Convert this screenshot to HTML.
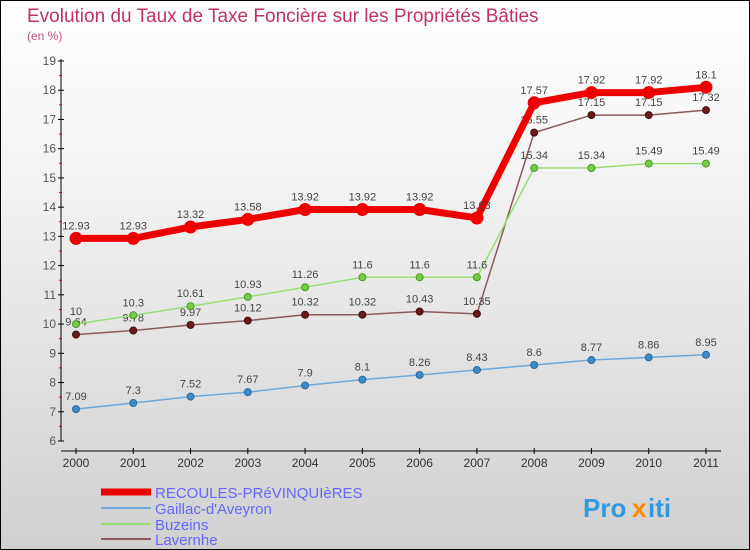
<!DOCTYPE html>
<html><head><meta charset="utf-8"><style>
body{margin:0}
#c{width:748px;height:548px;border:1px solid #000;background:linear-gradient(#fff,#f4f4f4 30%,#d0d0d0);position:relative;font-family:"Liberation Sans",sans-serif}
</style></head><body>
<div id="c">
<svg id="s" width="748" height="548" style="position:absolute;left:0;top:0">
<text x="26" y="21" font-size="19" fill="#c0306a">Evolution du Taux de Taxe Foncière sur les Propriétés Bâties</text>
<text x="26" y="39" font-size="12" fill="#c05080">(en %)</text>
<g id="ax"></g><g id="series"></g>
<g>
<line x1="100" y1="491" x2="150" y2="491" stroke="#ee0000" stroke-width="7"/>
<line x1="100" y1="507" x2="150" y2="507" stroke="#6fa8d8" stroke-width="2"/>
<line x1="100" y1="523" x2="150" y2="523" stroke="#99dd77" stroke-width="2"/>
<line x1="100" y1="538" x2="150" y2="538" stroke="#8b5a5a" stroke-width="2"/>
<g font-size="15" fill="#6666ff">
<text x="154" y="497">RECOULES-PRéVINQUIèRES</text>
<text x="154" y="513">Gaillac-d'Aveyron</text>
<text x="154" y="529">Buzeins</text>
<text x="154" y="544">Lavernhe</text>
</g></g>
<g font-size="26" font-weight="bold">
<text x="582" y="516" fill="#3399dd">Pro</text><text x="631" y="516" fill="#ff8800">x</text><text x="647" y="516" fill="#3399dd">iti</text>
</g>
</svg></div>
<script>
const years=[2000,2001,2002,2003,2004,2005,2006,2007,2008,2009,2010,2011];
const recoules=[12.93,12.93,13.32,13.58,13.92,13.92,13.92,13.63,17.57,17.92,17.92,18.1];
const gaillac=[7.09,7.3,7.52,7.67,7.9,8.1,8.26,8.43,8.6,8.77,8.86,8.95];
const buzeins=[10,10.3,10.61,10.93,11.26,11.6,11.6,11.6,15.34,15.34,15.49,15.49];
const lavernhe=[9.64,9.78,9.97,10.12,10.32,10.32,10.43,10.35,16.55,17.15,17.15,17.32];
const yTicks=[6,7,8,9,10,11,12,13,14,15,16,17,18,19];
const NS="http://www.w3.org/2000/svg";
const X=i=>75+i*(630/(years.length-1));
const Y=v=>440-(v-6)*(380/13);
function mk(t,a,p){const e=document.createElementNS(NS,t);for(const k in a)e.setAttribute(k,a[k]);p.appendChild(e);return e;}
const ax=document.getElementById('ax');
mk('line',{x1:60,y1:58,x2:60,y2:440,stroke:'#000'},ax);
mk('line',{x1:60,y1:450,x2:720,y2:450,stroke:'#000'},ax);
yTicks.forEach(v=>{
 mk('line',{x1:57,y1:Y(v),x2:63,y2:Y(v),stroke:'#000'},ax);
 if(v<19)mk('line',{x1:58,y1:Y(v+0.5),x2:61,y2:Y(v+0.5),stroke:'#e00'},ax);
 const t=mk('text',{x:55,y:Y(v)+4,'text-anchor':'end','font-size':12,fill:'#555'},ax);
 
 
 t.textContent=v;
});
years.forEach((yr,i)=>{
 mk('line',{x1:X(i),y1:447,x2:X(i),y2:453,stroke:'#000'},ax);
 const t=mk('text',{x:X(i),y:466,'text-anchor':'middle','font-size':12,fill:'#333'},ax);
 
 
 t.textContent=yr;
});
const sg=document.getElementById('series');
function series(data,name,col,w,r,dot,dotStroke,lab){
 const g=mk('g',{},sg);
 
 
 const pl=mk('polyline',{points:data.map((v,i)=>X(i)+','+Y(v)).join(' '),fill:'none',stroke:col,'stroke-width':w,'stroke-linejoin':'round'},g);
 
 
 data.forEach((v,i)=>{
  const c=mk('circle',{cx:X(i),cy:Y(v),r:r,fill:dot,stroke:dotStroke,'stroke-width':1},g);
  
  
  const t=mk('text',{x:X(i),y:Y(v)-9,'text-anchor':'middle','font-size':11,fill:lab},g);
  
  
  t.textContent=v;
 });
}
series(gaillac,'gaillac','#6fa8d8',1.5,3.5,'#3d8cc8','#2a6a9a','#444');
series(lavernhe,'lavernhe','#8b5a5a',1.5,3.5,'#6a1a1a','#401010','#444');
series(buzeins,'buzeins','#99dd77',1.5,3.5,'#77cc44','#4a9a2a','#444');
series(recoules,'recoules','#ee0000',7,6,'#ee0000','#ee0000','#444');
</script>
</body></html>
